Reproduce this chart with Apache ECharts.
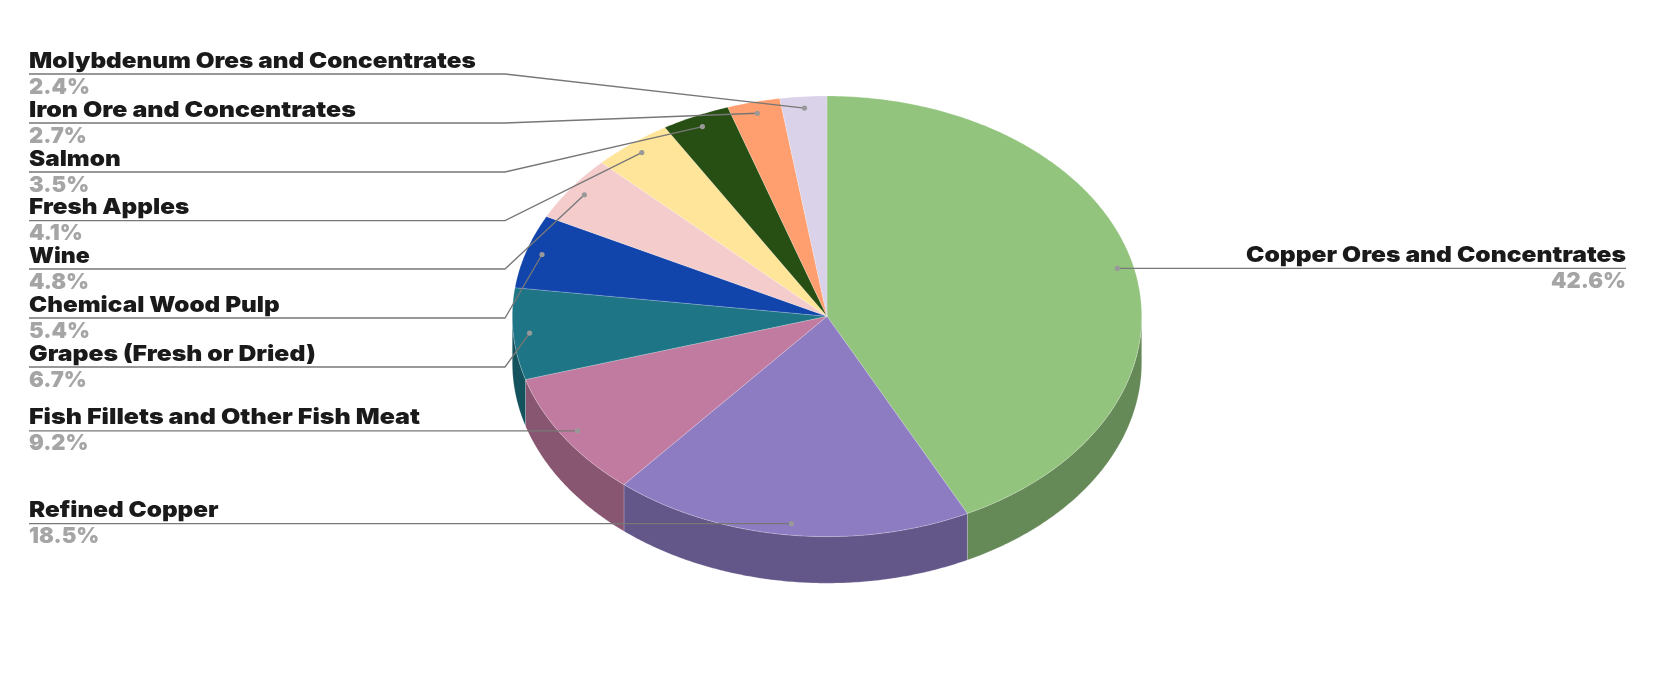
<!DOCTYPE html>
<html>
<head>
<meta charset="utf-8">
<style>html,body{margin:0;padding:0;background:#fff}#chart{width:1653px;height:682px}</style>
<script src="https://cdn.jsdelivr.net/npm/echarts@6/dist/echarts.min.js"></script>
</head>
<body>
<div id="chart"></div>
<script>
// Data, clockwise from 12 o'clock
const categories = ['Copper Ores and Concentrates','Refined Copper','Fish Fillets and Other Fish Meat','Grapes (Fresh or Dried)','Chemical Wood Pulp','Wine','Fresh Apples','Salmon','Iron Ore and Concentrates','Molybdenum Ores and Concentrates'];
const shares = [42.6,18.5,9.2,6.7,5.4,4.8,4.1,3.5,2.7,2.4];
const topColors = ['#93c47d','#8e7cc3','#c27ba0','#1d7586','#1145ab','#f4cccc','#ffe599','#274e13','#ff9e6f','#d9d2e9'];
const sideColors = ['#668958','#635689','#885670','#14525e','#0c3078','#ab8f8f','#b3a06b','#1b370d','#b36f4e','#9893a3'];

// Layout
const cx = 827, cy = 316.3, rx = 314.7, ry = 220.3, depth = 46.6;
const dotRadiusFraction = 0.948;
const rowY = [null,null,null,367,318,269,220.7,172,123,74]; // null: the leader runs level from its dot
const leftX = 29, elbowX = 505, rightX = 1626;
const font = {fontFamily:'Inter', fontWeight:900, fontSize:22};
const nameStretch = [1.119,1.104,1.138,1.125,1.104,1.049,1.104,1.104,1.133,1.104];

const total = shares.reduce((a,b)=>a+b,0);
const cum = [0]; shares.forEach((v,i)=>cum.push(cum[i]+v));
const toAngle = v => echarts.number.linearMap(v,[0,total],[0,360]);
const pt = (deg,f=1,dy=0) => { const r=deg*Math.PI/180; return [cx+rx*f*Math.sin(r), cy-ry*f*Math.cos(r)+dy]; };
const arc = (a0,a1,dy=0) => { const n=Math.max(2,Math.ceil((a1-a0)*2)), p=[]; for(let k=0;k<=n;k++) p.push(pt(a0+(a1-a0)*k/n,1,dy)); return p; };
const edge = 'rgba(255,255,255,0.28)';

const seriesData = shares.map(v=>[v]);

const sideSeries = {type:'custom',coordinateSystem:'none',silent:true,z:1,data:seriesData,
  renderItem(params){
    const i=params.dataIndex, a0=Math.max(toAngle(cum[i]),90), a1=Math.min(toAngle(cum[i+1]),270);
    if(a1<=a0) return {type:'group',children:[]};
    return {type:'polygon',shape:{points:arc(a0,a1).concat(arc(a0,a1,depth).reverse())},style:{fill:sideColors[i],stroke:edge,lineWidth:0.7}};
  }};

const topSeries = {type:'custom',coordinateSystem:'none',silent:true,z:2,data:seriesData,
  renderItem(params){
    const i=params.dataIndex;
    return {type:'polygon',shape:{points:[[cx,cy]].concat(arc(toAngle(cum[i]),toAngle(cum[i+1])))},style:{fill:topColors[i],stroke:edge,lineWidth:0.7}};
  }};

const labelSeries = {type:'custom',coordinateSystem:'none',silent:true,z:3,data:seriesData,
  renderItem(params,api){
    const i=params.dataIndex, mid=toAngle(cum[i]+api.value(0)/2), dot=pt(mid,dotRadiusFraction);
    const y=rowY[i]===null?dot[1]:rowY[i], right=dot[0]>cx;
    const points=right?[[rightX,y],dot]:[[leftX,y],[elbowX,y],dot];
    const tx=right?rightX:leftX, align=right?'right':'left';
    return {type:'group',children:[
      {type:'polyline',shape:{points},style:{stroke:'#777777',lineWidth:1.3,fill:'none'}},
      {type:'circle',shape:{cx:dot[0],cy:dot[1],r:2.6},style:{fill:'#999999'}},
      {type:'text',x:tx,y:y-2,scaleX:nameStretch[i],style:Object.assign({text:categories[i],x:0,y:0,align,verticalAlign:'bottom',fill:'#1a1a1a'},font)},
      {type:'text',x:tx,y:y+2,style:Object.assign({text:api.value(0).toFixed(1)+'%',x:0,y:0,align,verticalAlign:'top',fill:'#a5a5a5'},font)}
    ]};
  }};

const chart = echarts.init(document.getElementById('chart'));
chart.setOption({animation:false,backgroundColor:'#ffffff',series:[sideSeries,topSeries,labelSeries]});
</script>
</body>
</html>
